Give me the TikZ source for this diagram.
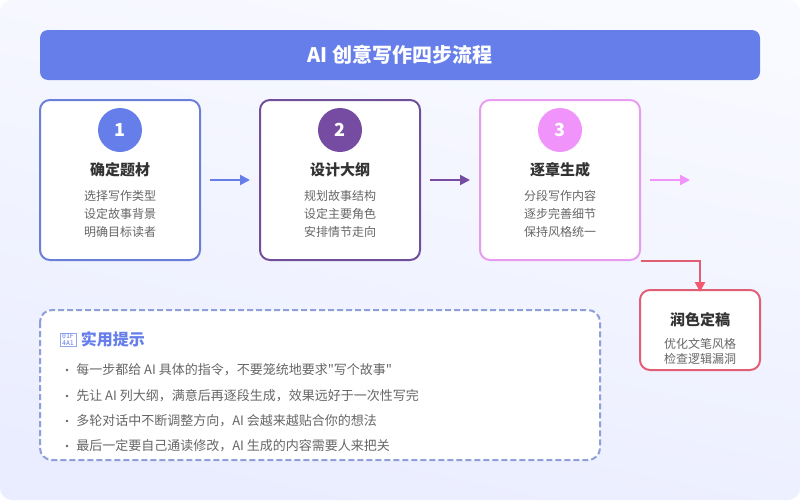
\documentclass[tikz,border=0pt]{standalone}
\usepackage{fontspec}
\setmainfont{Noto Sans CJK SC}[Ligatures=TeXOff]
\newfontfamily\tipicon{DejaVu Sans Mono}
\usetikzlibrary{positioning,arrows.meta,calc}
\definecolor{stepone}{HTML}{667EEA}
\definecolor{steptwo}{HTML}{764BA2}
\definecolor{stepthree}{HTML}{F093FB}
\definecolor{stepfour}{HTML}{F5576C}
\definecolor{edgeone}{HTML}{6A80D8}
\definecolor{edgetwo}{HTML}{70509A}
\definecolor{edgethree}{HTML}{E89CF0}
\definecolor{edgefour}{HTML}{E05F75}
\definecolor{edgetips}{HTML}{8F9FDA}
\definecolor{bodygray}{HTML}{666666}
\definecolor{titlegray}{HTML}{333333}
\definecolor{bgstart}{HTML}{F9FAFF}
\definecolor{bgend}{HTML}{EAEDFF}
\tikzset{
  stepcard/.style={draw=#1,line width=1.5pt,fill=white,rounded corners=7.5pt,
    minimum width=120pt,minimum height=120pt,inner sep=0pt},
  stepnum/.style={circle,fill=#1,minimum size=33pt,inner sep=0pt,text=white,
    font=\fontsize{13.5}{16}\selectfont\bfseries},
  steptitle/.style={text=titlegray,inner sep=0pt,font=\fontsize{11.25}{14}\selectfont\bfseries},
  stepbody/.style={text=bodygray,inner sep=0pt,align=center,font=\fontsize{9}{13.5}\selectfont},
  steparrow/.style={draw=#1,line width=1.5pt,-{Triangle[length=7.5pt,width=7.5pt,#1]}},
  tipline/.style={text=bodygray,inner sep=0pt,anchor=west,font=\fontsize{9.75}{12}\selectfont},
  tipdot/.style={circle,fill=bodygray,minimum size=2pt,inner sep=0pt},
}
\begin{document}
\begin{tikzpicture}[x=0.75pt,y=-0.75pt]
  \useasboundingbox (0,0) rectangle (800,500);
  \shade[rounded corners=9pt,top color=bgstart,bottom color=bgend,shading angle=-12] (0,0) rectangle (800,500);

  \node[fill=stepone,rounded corners=6pt,minimum width=540pt,minimum height=37.5pt,inner sep=0pt,
    text=white,font=\fontsize{15}{18}\selectfont\bfseries] (title) at (400,55) {AI 创意写作四步流程};

  % steps
  \foreach \Name/\Col/\Edge/\X/\Num/\Head/\First/\Second/\Third in {
    one/stepone/edgeone/120/1/确定题材/选择写作类型/设定故事背景/明确目标读者,
    two/steptwo/edgetwo/340/2/设计大纲/规划故事结构/设定主要角色/安排情节走向,
    three/stepthree/edgethree/560/3/逐章生成/分段写作内容/逐步完善细节/保持风格统一} {
    \node[stepcard=\Edge] (card_\Name) at (\X,180) {};
    \node[stepnum=\Col] (num_\Name) at (\X,130) {\Num};
    \node[steptitle] (head_\Name) at (\X,170) {\Head};
    \node[stepbody] (body_\Name) at (\X,214) {\First\\\Second\\\Third};
  }

  \node[stepcard=edgefour,minimum width=90pt,minimum height=60pt] (card_four) at (700,330) {};
  \node[steptitle] (head_four) at (700,320) {润色定稿};
  \node[stepbody,font=\fontsize{9}{11.25}\selectfont] (body_four) at (700,351) {优化文笔风格\\检查逻辑漏洞};

  \coordinate (arrow_a) at (210,180);
  \coordinate (arrow_b) at (250,180);
  \coordinate (arrow_c) at (430,180);
  \coordinate (arrow_d) at (470,180);
  \coordinate (arrow_e) at (650,180);
  \coordinate (arrow_f) at (690,180);
  \draw[steparrow=stepone] (arrow_a) -- (arrow_b);
  \draw[steparrow=steptwo] (arrow_c) -- (arrow_d);
  \draw[steparrow=stepthree] (arrow_e) -- (arrow_f);
  \draw[steparrow=stepfour,draw=edgefour,line width=1.8pt,shorten >=-2.25pt] (card_three.south east) -| (card_four.north);

  % tips
  \draw[edgetips,line width=1.5pt,dash pattern=on 4.5pt off 2.25pt,fill=white,rounded corners=9pt]
    (40,310) rectangle (600,460);
  \node[draw=stepone!70!white,line width=0.4pt,minimum width=12pt,minimum height=10pt,inner sep=0pt,
    text=stepone,align=center,font=\tipicon\fontsize{4.8}{4.8}\selectfont] (tip_icon) at (68,339.5) {01F\\4A1};
  \node[right=3.2pt of tip_icon,inner sep=0pt,text=stepone,font=\fontsize{12}{15}\selectfont\bfseries] (tip_head) {实用提示};
  \foreach \Y/\Tip in {
    370/每一步都给 AI 具体的指令，不要笼统地要求"写个故事",
    396/先让 AI 列大纲，满意后再逐段生成，效果远好于一次性写完,
    421/多轮对话中不断调整方向，AI 会越来越贴合你的想法,
    446/最后一定要自己通读修改，AI 生成的内容需要人来把关} {
    \node[tipdot] (dot_\Y) at (67,\Y) {};
    \node[tipline] (tip_\Y) at (76,\Y) {\Tip};
  }
\end{tikzpicture}
\end{document}
